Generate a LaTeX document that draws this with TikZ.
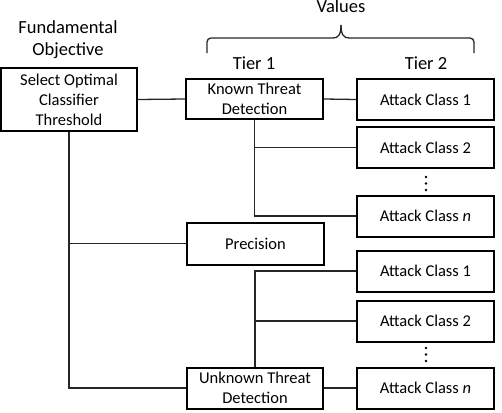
\documentclass[tikz,border=0pt]{standalone}
\usepackage{fontspec}
\setmainfont{Carlito}
\tikzset{
  box/.style={draw=black, line width=2pt, minimum width=137pt, minimum height=41pt, inner sep=0pt, align=center, font=\fontsize{16.5}{20}\selectfont},
  head/.style={inner sep=0pt, align=center, font=\fontsize{18.5}{22}\selectfont},
  conn/.style={draw=black!85, line width=1.3pt},
  dotmark/.style={fill=black, circle, inner sep=0pt, minimum size=2.8pt}
}
\begin{document}
\begin{tikzpicture}[x=1pt, y=-1pt]
\useasboundingbox (0,0) rectangle (502,412);
% headings
\node[head, anchor=base] (values) at (341,12.5) {Values};
\node[head] (fund) at (68,40) {Fundamental\\Objective};
\node[head] (tier1) at (254,63) {Tier 1};
\node[head] (tier2) at (426,63) {Tier 2};
% brace
\draw[conn] (207,53) -- (207,42) arc[start angle=180, end angle=270, radius=4] -- (333,38)
  .. controls (338,38) and (341,35) .. (341,25);
\draw[conn] (474,53) -- (474,42) arc[start angle=0, end angle=-90, radius=4] -- (349,38)
  .. controls (344,38) and (341,35) .. (341,25);
% boxes
\node[box, minimum width=136pt, minimum height=63pt] (sel) at (69,99.5) {Select Optimal\\Classifier\\Threshold};
\node[box, minimum height=40pt] (known) at (254.5,99) {Known Threat\\Detection};
\node[box] (ac1a) at (425.5,99.5) {Attack Class 1};
\node[box] (ac2a) at (425.5,147.5) {Attack Class 2};
\node[box] (acna) at (425.5,216) {Attack Class \textit{n}};
\node[box, minimum height=42pt] (prec) at (255.5,243.5) {Precision};
\node[box] (ac1b) at (425.5,271) {Attack Class 1};
\node[box] (ac2b) at (425.5,321) {Attack Class 2};
\node[box] (acnb) at (425.5,388) {Attack Class \textit{n}};
\node[box, minimum width=136pt] (unk) at (255,388) {Unknown Threat\\Detection};
% dots
\node[dotmark] (da1) at (426,177) {};
\node[dotmark] (da2) at (426,183.5) {};
\node[dotmark] (da3) at (426,190) {};
\node[dotmark] (db1) at (426,348) {};
\node[dotmark] (db2) at (426,354.5) {};
\node[dotmark] (db3) at (426,361) {};
% connectors
\draw[conn] (sel.east) -- (known.west);
\draw[conn] (known.east) -- (ac1a.west);
\draw[conn] (known.south) -- (known.south |- acna.west) -- (acna.west);
\draw[conn] (known.south |- ac2a.west) -- (ac2a.west);
\draw[conn] (sel.south) -- (sel.south |- unk.west) -- (unk.west);
\draw[conn] (sel.south |- prec.west) -- (prec.west);
\draw[conn] (unk.north) -- (unk.north |- ac1b.west) -- (ac1b.west);
\draw[conn] (unk.north |- ac2b.west) -- (ac2b.west);
\draw[conn] (unk.east) -- (acnb.west);
\end{tikzpicture}
\end{document}
